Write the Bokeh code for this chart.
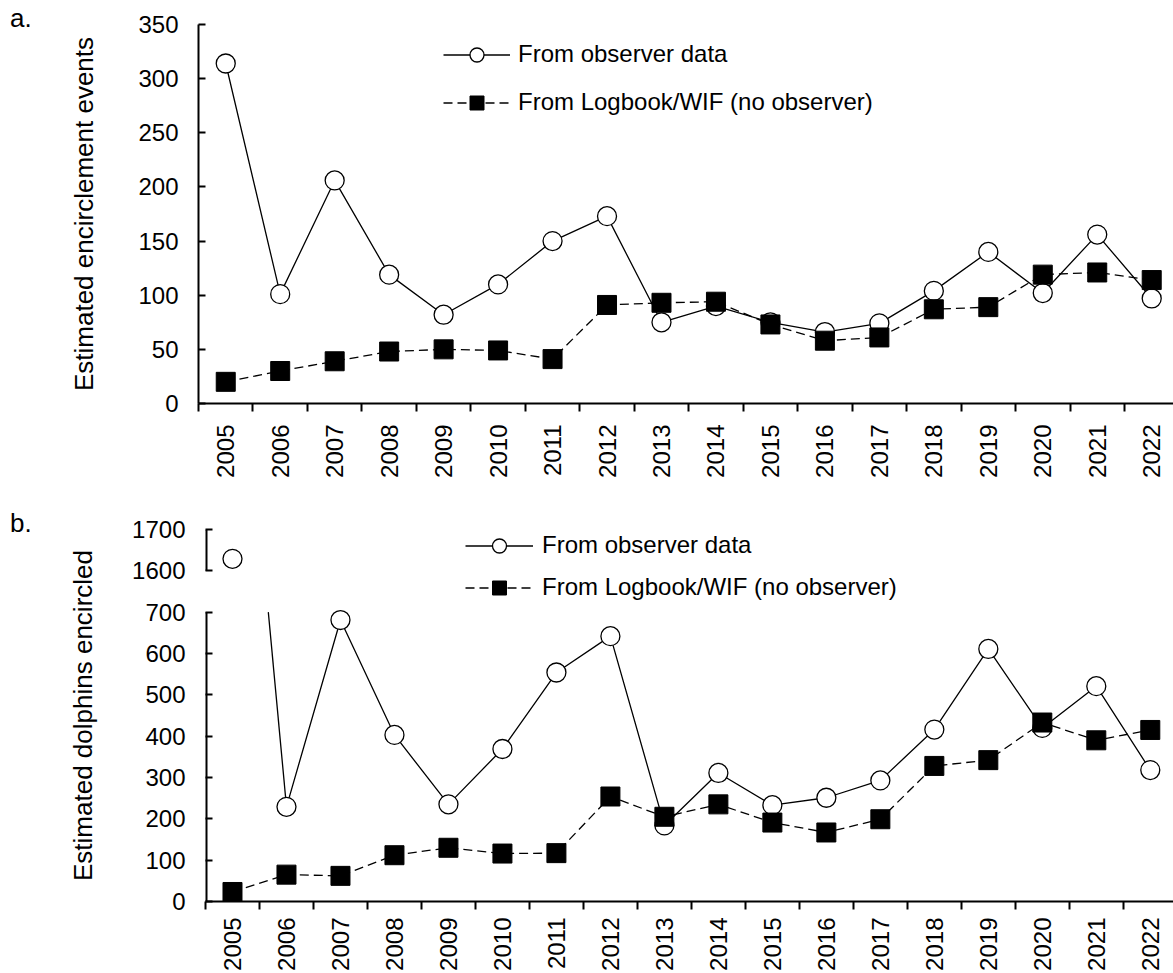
from math import nan, pi

from bokeh.embed import file_html
from bokeh.layouts import column, row
from bokeh.models import Div, FixedTicker, Legend, LegendItem, Range1d
from bokeh.plotting import figure
from bokeh.resources import INLINE

# ---- data -------------------------------------------------------------
years = [str(y) for y in range(2005, 2023)]

events_observer = [314, 101, 206, 119, 82, 110, 150, 173, 75, 90,
                   75, 66, 74, 104, 140, 102, 156, 97]
events_logbook = [20, 30, 39, 48, 50, 49, 41, 91, 93, 94,
                  73, 58, 61, 87, 89, 119, 121, 114]

dolphins_observer = [1629, 229, 681, 403, 235, 369, 554, 642, 184, 311,
                     233, 251, 293, 416, 611, 420, 521, 318]
dolphins_logbook = [23, 65, 62, 112, 130, 116, 117, 254, 205, 235,
                    191, 167, 199, 328, 342, 433, 390, 415]

label_observer = "From observer data"
label_logbook = "From Logbook/WIF (no observer)"

events_ticks = list(range(0, 351, 50))
# broken y axis of panel b: lower and upper segments
lower_ticks = list(range(0, 701, 100))
upper_ticks = [1600, 1700]

# ---- styling ----------------------------------------------------------
FONT = "Liberation Sans"
TICK_FS = "24px"
TITLE_FS = "26px"
LEFT_COL = 40          # column holding the panel letters
BREAK_SHIFT = 800      # values above the break are drawn shifted down

xs = list(range(len(years)))
edges = [i - 0.5 for i in range(len(years) + 1)]

LINE = dict(line_color="black", line_width=1.3)
DASH = dict(line_color="black", line_width=1.3, line_dash="9 5")


def base_figure(width, height, x_range, y_range, **kw):
    p = figure(width=width, height=height, x_range=x_range, y_range=y_range,
               toolbar_location=None, output_backend="svg", title=None,
               outline_line_color=None, background_fill_color="white",
               border_fill_color="white", **kw)
    p.xgrid.grid_line_color = None
    p.ygrid.grid_line_color = None
    return p


def style_y(p, ticks, title, title_standoff, overrides=None):
    ax = p.yaxis[0]
    ax.ticker = FixedTicker(ticks=ticks)
    if overrides:
        ax.major_label_overrides = overrides
    ax.axis_line_width = 2
    ax.axis_line_color = "black"
    ax.major_tick_in = 7
    ax.major_tick_out = 0
    ax.major_tick_line_width = 2
    ax.major_tick_line_color = "black"
    ax.minor_tick_line_color = None
    ax.major_label_text_font = FONT
    ax.major_label_text_font_size = TICK_FS
    ax.major_label_text_color = "black"
    ax.major_label_standoff = 20
    ax.axis_label = title
    ax.axis_label_text_font = FONT
    ax.axis_label_text_font_size = TITLE_FS
    ax.axis_label_text_font_style = "normal"
    ax.axis_label_text_color = "black"
    ax.axis_label_standoff = title_standoff


def style_x(p, standoff):
    ax = p.xaxis[0]
    ax.ticker = FixedTicker(ticks=xs, minor_ticks=edges)
    ax.major_label_overrides = {i: y for i, y in zip(xs, years)}
    ax.major_label_orientation = pi / 2
    ax.axis_line_width = 2
    ax.axis_line_color = "black"
    ax.major_tick_in = 0
    ax.major_tick_out = 0
    ax.minor_tick_in = 0
    ax.minor_tick_out = 8
    ax.minor_tick_line_width = 2
    ax.minor_tick_line_color = "black"
    ax.major_label_text_font = FONT
    ax.major_label_text_font_size = TICK_FS
    ax.major_label_text_color = "black"
    ax.major_label_standoff = standoff


def draw_series(p, observer_line, observer_marks, logbook):
    l1 = p.line(xs, observer_line, **LINE)
    s1 = p.scatter(xs, observer_marks, marker="circle", size=19,
                   fill_color="white", line_color="black", line_width=1.3)
    l2 = p.line(xs, logbook, **DASH)
    s2 = p.scatter(xs, logbook, marker="square", size=19,
                   fill_color="black", line_color="black", line_width=1)
    return (l1, s1), (l2, s2)


def add_legend(p, obs_r, log_r, location, glyph_width, standoff, spacing):
    legend = Legend(
        items=[LegendItem(label=label_observer, renderers=list(obs_r)),
               LegendItem(label=label_logbook, renderers=list(log_r))],
        location=location, glyph_width=glyph_width, glyph_height=35,
        label_height=35, label_standoff=standoff, spacing=spacing,
        padding=0, margin=0, border_line_color=None,
        background_fill_alpha=0, label_text_font=FONT,
        label_text_font_size=TICK_FS, label_text_color="black")
    p.add_layout(legend)


def letter_div(letter, height, pad_top):
    html = (f'<div style="font-family: \'{FONT}\'; font-size: {TITLE_FS}; '
            f'line-height: 30px; color: black; margin: 0; '
            f'padding: {pad_top}px 0 0 10px;">{letter}</div>')
    return Div(text=html, width=LEFT_COL, height=height, margin=0)


# ---- panel a: encirclement events ------------------------------------
fig_a = base_figure(1173 - LEFT_COL, 480, Range1d(-0.5, 17.4),
                    Range1d(events_ticks[0], events_ticks[-1]),
                    min_border_left=158, min_border_right=0,
                    min_border_top=24, min_border_bottom=76)
style_y(fig_a, events_ticks, "Estimated encirclement events", 36)
style_x(fig_a, 13)
obs_a, log_a = draw_series(fig_a, events_observer, events_observer,
                           events_logbook)
add_legend(fig_a, obs_a, log_a, (245, 283.5), 67, 8, 13)

# ---- panel b: dolphins encircled (broken y axis) ---------------------
break_top = lower_ticks[-1]
shown_upper = [t - BREAK_SHIFT for t in upper_ticks]

# markers above the break sit on the upper segment; the connecting line
# stays on the lower scale and stops where it leaves the lower segment
observer_marks = [v - BREAK_SHIFT if v > break_top else v
                  for v in dolphins_observer]
observer_line = [v if v <= break_top else nan for v in dolphins_observer]

exit_x0, exit_y0, exit_x1, exit_y1 = [], [], [], []
for i in range(len(xs) - 1):
    a, b = dolphins_observer[i], dolphins_observer[i + 1]
    if (a > break_top) != (b > break_top):
        t = (break_top - a) / (b - a)
        inside = (xs[i + 1], b) if a > break_top else (xs[i], a)
        exit_x0.append(inside[0])
        exit_y0.append(inside[1])
        exit_x1.append(xs[i] + t * (xs[i + 1] - xs[i]))
        exit_y1.append(break_top)

xr_b = Range1d(-0.5, 17.43)
fig_b = base_figure(1173 - LEFT_COL, 493, xr_b, Range1d(0, shown_upper[-1]),
                    min_border_left=165, min_border_right=0,
                    min_border_top=49, min_border_bottom=71)
style_y(fig_b, lower_ticks + shown_upper, "Estimated dolphins encircled", 31,
        overrides={s: str(t) for s, t in zip(shown_upper, upper_ticks)})
fig_b.yaxis[0].axis_line_color = None
style_x(fig_b, 8)

fig_b.segment(x0=exit_x0, y0=exit_y0, x1=exit_x1, y1=exit_y1, **LINE)
obs_b, log_b = draw_series(fig_b, observer_line, observer_marks,
                           dolphins_logbook)

# y axis line in two pieces: lower segment and bracket above the break
fig_b.segment(x0=[xr_b.start] * 2, y0=[lower_ticks[0], shown_upper[0]],
              x1=[xr_b.start] * 2, y1=[lower_ticks[-1], shown_upper[-1]],
              line_color="black", line_width=4)

add_legend(fig_b, obs_b, log_b, (260, 296.5), 68, 9, 7)

layout = column(row(letter_div("a.", 480, 3), fig_a),
                row(letter_div("b.", 493, 28), fig_b))

open("out.html", "w").write(file_html(layout, INLINE))
